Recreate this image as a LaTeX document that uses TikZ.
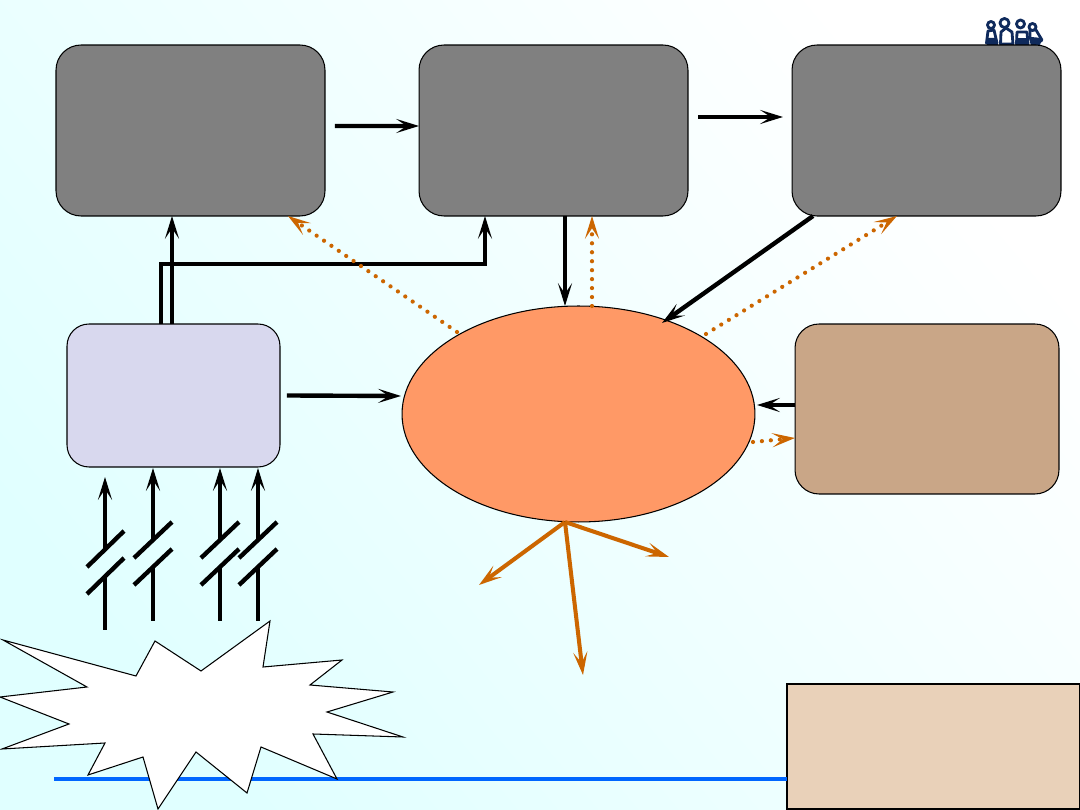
\documentclass[tikz,border=0pt]{standalone}
\definecolor{bgcyan}{HTML}{E0FFFF}
\definecolor{bgwhite}{HTML}{FFFFFF}
\definecolor{boxgrey}{HTML}{808080}
\definecolor{lavender}{HTML}{D8D8EE}
\definecolor{hubfill}{HTML}{FF9966}
\definecolor{sidetan}{HTML}{C9A687}
\definecolor{notetan}{HTML}{E9D1B9}
\definecolor{linkorange}{HTML}{CC6600}
\definecolor{rulerblue}{HTML}{0066FF}
\definecolor{peoplenavy}{HTML}{0F2A5C}
\usepackage{tikz}
\usetikzlibrary{arrows.meta}
\usetikzlibrary{shapes.geometric}
\tikzstyle{base}=[x=0.02cm, y=-0.02cm, inner sep=0pt, outer sep=0pt]
\tikzstyle{greybox}=[draw=black, line width=0.6pt, fill=boxgrey, rounded corners=0.5cm, minimum width=5.38cm, minimum height=3.42cm]
\tikzstyle{link}=[line width=2.5pt, -{Stealth[length=13pt, width=8pt, inset=6pt]}]
\tikzstyle{plainlink}=[line width=2.5pt]
\tikzstyle{cutmark}=[line width=2.5pt]
\tikzstyle{feedback}=[linkorange, line width=2.4pt, line cap=round, dash pattern=on 0pt off 5.1pt, -{Stealth[length=13pt, width=8pt, inset=6pt, sep=0pt]}]
\tikzstyle{output}=[linkorange, line width=2.3pt, -{Stealth[length=13pt, width=8pt, inset=6pt]}]
\tikzstyle{person}=[draw=peoplenavy, line width=1.6pt, fill=white, line join=round]
\tikzstyle{personfeet}=[fill=peoplenavy]

\begin{document}
\begin{tikzpicture}[base]
    \shade [left color=bgcyan, right color=bgwhite, shading angle=130] (0,0) rectangle (1080,810);
    \path [use as bounding box] (0,0) rectangle (1080,810);

    % ruler under the burst
    \coordinate (rulerstart) at (54,779);
    \node [draw=black, line width=1.2pt, fill=notetan, minimum width=5.86cm, minimum height=2.5cm] (notebox) at (933.5,746.5) {};
    \draw [rulerblue, line width=1.8pt] (rulerstart) -- (rulerstart -| notebox.west);

    % the four small figures
    \draw [person] (986.5,43) -- (988,31) -- (994,30) -- (997,43) -- cycle;
    \fill [personfeet] (987,38) -- (987,45) -- (998,45) -- (996,38) -- cycle;
    \draw [person] (991,25) circle [radius=3.5];
    \draw [person] (1000.5,44) -- (1001,32) -- (1006,28) -- (1012,32) -- (1013,44) -- cycle;
    \draw [person] (1004.5,23) circle [radius=4.5];
    \draw [person] (1016.5,44) -- (1017,32) -- (1027,32) -- (1028,44) -- cycle;
    \fill [personfeet] (1017,38) rectangle (1027,45);
    \draw [person] (1020.5,24) circle [radius=4];
    \draw [person] (1030,37) -- (1030,30) -- (1036,30) -- (1042,40) -- (1037,44) -- (1032,44) -- cycle;
    \fill [personfeet] (1031,37) -- (1042,38) -- (1040,45) -- (1032,45) -- cycle;
    \draw [person] (1032.5,27) circle [radius=3.5];

    % main boxes
    \node [greybox] (topleft) at (190.5,130.5) {};
    \node [greybox] (topmid) at (553.5,130.5) {};
    \node [greybox] (topright) at (926.5,130.5) {};
    \node [draw=black, line width=0.6pt, fill=lavender, rounded corners=0.44cm, minimum width=4.26cm, minimum height=2.86cm] (inbox) at (173.5,395.5) {};
    \node [draw=black, line width=0.6pt, fill=hubfill, shape=ellipse, minimum width=7.06cm, minimum height=4.32cm] (hub) at (578.5,414) {};
    \node [draw=black, line width=0.6pt, fill=sidetan, rounded corners=0.48cm, minimum width=5.28cm, minimum height=3.4cm] (sidebox) at (927,409) {};

    % black links
    \draw [link] ([shift={(10,-4.5)}]topleft.east) -- ([yshift=0.09cm]topmid.west);
    \coordinate (topmidout) at (698,117);
    \coordinate (toprightin) at (783,117);
    \draw [link] (topmidout) -- (toprightin);
    \draw [link] (inbox.north -| 172,0) -- (topleft.south -| 172,0);
    \draw [link] (inbox.north -| 161,0) |- (485,264) -- (topmid.south -| 485,0);
    \draw [link] (topmid.south -| 565,0) -- (hub.north -| 565,0);
    \draw [link] ([shift={(21,0)}]topright.south west) -- (662,323);
    \coordinate (hubwest) at (401,396);
    \draw [link] ([shift={(7,0)}]inbox.east) -- (hubwest);
    \draw [link] (sidebox.west |- 0,405) -- (757,405);

    % dotted links into the boxes
    \coordinate (hubnw) at (457,332);
    \coordinate (hubne) at (706,334);
    \coordinate (hubeast) at (753,442);
    \draw [feedback] (hubnw) -- (288,216);
    \draw [feedback] (hub.north -| 592,0) -- (topmid.south -| 592,0);
    \draw [feedback] (hubne) -- (897,216);
    \draw [feedback] (hubeast) -- (sidebox.west |- 0,438);

    % outputs
    \coordinate (hubsouth) at (565,522);
    \coordinate (outleft) at (479,585);
    \coordinate (outdown) at (583,675);
    \coordinate (outright) at (669,557);
    \draw [output] (hubsouth) -- (outleft);
    \draw [output] (hubsouth) -- (outdown);
    \draw [output] (hubsouth) -- (outright);

    % inputs with their cut marks
    \coordinate (infoota) at (105,630);
    \coordinate (inbreaka) at (105,577);
    \coordinate (inuppera) at (105,548);
    \draw [plainlink] (infoota) -- (inbreaka);
    \draw [link] (inuppera) -- (105,477);
    \draw [cutmark] (87,567) -- (124,531);
    \draw [cutmark] (87,594) -- (124,558);

    \coordinate (infootb) at (153,621);
    \coordinate (inbreakb) at (153,567);
    \coordinate (inupperb) at (153,539);
    \draw [plainlink] (infootb) -- (inbreakb);
    \draw [link] (inupperb) -- (153,468);
    \draw [cutmark] (134,558) -- (172,522);
    \draw [cutmark] (134,585) -- (172,549);

    \coordinate (infootc) at (220,621);
    \coordinate (inbreakc) at (220,567);
    \coordinate (inupperc) at (220,539);
    \draw [plainlink] (infootc) -- (inbreakc);
    \draw [link] (inupperc) -- (220,468);
    \draw [cutmark] (201,558) -- (239,522);
    \draw [cutmark] (201,585) -- (239,549);

    \coordinate (infootd) at (258,621);
    \coordinate (inbreakd) at (258,567);
    \coordinate (inupperd) at (258,539);
    \draw [plainlink] (infootd) -- (inbreakd);
    \draw [link] (inupperd) -- (258,468);
    \draw [cutmark] (239,558) -- (277,522);
    \draw [cutmark] (239,585) -- (277,549);

    % burst
    \draw [black, line width=0.6pt, fill=white] (3,640) -- (136,676) -- (155,641) -- (201,671) -- (270,621) -- (263,667) -- (342,660) -- (310,685) -- (393,692) -- (327,712) -- (403,737) -- (313,734) -- (337,779) -- (261,747) -- (247,793) -- (196,752) -- (158,809) -- (143,757) -- (88,775) -- (105,743) -- (2,749) -- (69,724) -- (0,697) -- (87,687) -- cycle;
\end{tikzpicture}
\end{document}
